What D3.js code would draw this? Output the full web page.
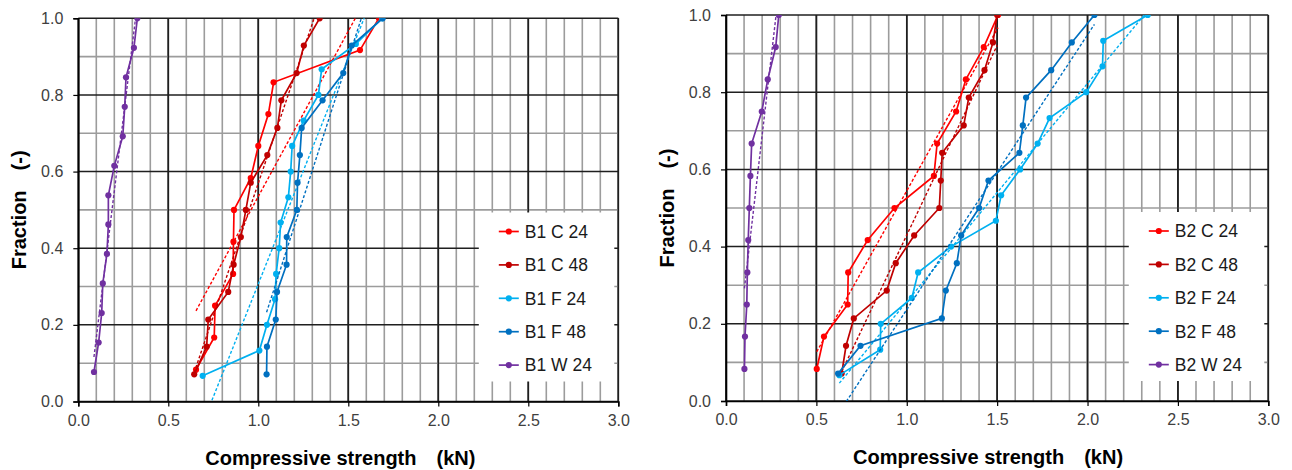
<!DOCTYPE html>
<html>
<head>
<meta charset="utf-8">
<script src="https://cdn.jsdelivr.net/npm/d3@7"></script>
<style>
  body { margin: 0; background: #ffffff; }
  svg { display: block; font-family: "Liberation Sans", Arial, sans-serif; }
</style>
</head>
<body>
<div id="chart"></div>
<script>
// ---------- data ----------
const xTickValues = [0, 0.5, 1.0, 1.5, 2.0, 2.5, 3.0];
const yTickValues = [0, 0.2, 0.4, 0.6, 0.8, 1.0];

const seriesKeys = ['C 24', 'C 48', 'F 24', 'F 48', 'W 24'];

// cumulative fraction (-) for samples of 12 .. 15 specimens
const frac12 = [0.083, 0.167, 0.25, 0.333, 0.417, 0.5, 0.583, 0.667, 0.75, 0.833, 0.917, 1.0];
const frac13 = [0.077, 0.154, 0.231, 0.308, 0.385, 0.462, 0.538, 0.615, 0.692, 0.769, 0.846, 0.923, 1.0];
const frac14 = [0.071, 0.143, 0.214, 0.286, 0.357, 0.429, 0.5, 0.571, 0.643, 0.714, 0.786, 0.857, 0.929, 1.0];
const frac15 = [0.067, 0.133, 0.2, 0.267, 0.333, 0.4, 0.467, 0.533, 0.6, 0.667, 0.733, 0.8, 0.867, 0.933, 1.0];

// compressive strength (kN), batch B1
const b1C24 = [0.654, 0.755, 0.76, 0.86, 0.862, 0.865, 0.958, 1.0, 1.056, 1.085, 1.565, 1.67];
const b1C48 = [0.644, 0.713, 0.722, 0.833, 0.863, 0.903, 0.931, 0.958, 1.05, 1.106, 1.128, 1.213, 1.253, 1.341];
const b1F24 = [0.691, 1.006, 1.048, 1.093, 1.099, 1.116, 1.124, 1.167, 1.18, 1.188, 1.252, 1.334, 1.352, 1.542, 1.688];
const b1F48 = [1.046, 1.048, 1.097, 1.104, 1.157, 1.158, 1.214, 1.218, 1.231, 1.241, 1.357, 1.472, 1.519, 1.691];
const b1W24 = [0.087, 0.113, 0.13, 0.136, 0.159, 0.167, 0.167, 0.2, 0.247, 0.258, 0.265, 0.309, 0.328];

// compressive strength (kN), batch B2
const b2C24 = [0.502, 0.542, 0.673, 0.676, 0.784, 0.932, 1.15, 1.168, 1.273, 1.327, 1.426, 1.505];
const b2C48 = [0.64, 0.664, 0.707, 0.889, 0.939, 1.041, 1.18, 1.188, 1.196, 1.315, 1.343, 1.43, 1.477, 1.5];
const b2F24 = [0.627, 0.853, 0.856, 1.028, 1.063, 1.245, 1.493, 1.522, 1.627, 1.724, 1.79, 1.993, 2.083, 2.087, 2.333];
const b2F48 = [0.62, 0.744, 1.194, 1.216, 1.277, 1.301, 1.4, 1.452, 1.623, 1.642, 1.66, 1.799, 1.913, 2.038];
const b2W24 = [0.102, 0.105, 0.115, 0.118, 0.123, 0.129, 0.135, 0.142, 0.198, 0.231, 0.275, 0.292];

const seriesColors = ['#ff0000', '#c00000', '#00b0f0', '#0070c0', '#7030a0'];

class FractionChart {
    constructor() {
        const attrs = {
            container: '#chart',
            svgWidth: 1292,
            svgHeight: 470,
            gridMinor: '#9c9c9c',
            gridMajor: '#1f1f1f',
            tickColor: '#404040',
            panels: []
        };
        this.getState = () => attrs;
        this.setState = (d) => Object.assign(attrs, d);

        // small enter/update helper
        d3.selection.prototype.patternify = function (params) {
            const data = params.data || [params.selector];
            let sel = this.selectAll('.' + params.selector).data(data);
            sel.exit().remove();
            sel = sel.enter().append(params.tag).merge(sel);
            sel.attr('class', params.selector);
            return sel;
        };
    }

    panels(p) {
        this.setState({ panels: p });
        return this;
    }

    render() {
        const { container, svgWidth, svgHeight, panels } = this.getState();
        const svg = d3.select(container)
            .patternify({ tag: 'svg', selector: 'svg-chart-container' })
            .attr('width', svgWidth)
            .attr('height', svgHeight);

        panels.forEach((p, i) => this.drawPanel(svg, p, i));
    }

    // least squares fit y = a + b x over the x range of the data (Excel linear trendline)
    trend(xs, ys) {
        const mx = d3.mean(xs);
        const my = d3.mean(ys);
        const sxy = d3.sum(xs, (x, i) => (x - mx) * (ys[i] - my));
        const sxx = d3.sum(xs, x => (x - mx) * (x - mx));
        const b = sxy / sxx;
        const a = my - b * mx;
        const [x0, x1] = d3.extent(xs);
        return [[x0, a + b * x0], [x1, a + b * x1]];
    }

    drawPanel(svg, p, idx) {
        const { gridMinor, gridMajor, tickColor } = this.getState();

        const xScale = d3.scaleLinear().domain([0, 3]).range([p.left, p.right]);
        const yScale = d3.scaleLinear().domain([0, 1]).range([p.bottom, p.top]);

        const g = svg.patternify({ tag: 'g', selector: 'panel-' + idx });

        g.patternify({ tag: 'clipPath', selector: 'clip' })
            .attr('id', 'clip-' + idx)
            .patternify({ tag: 'rect', selector: 'clip-rect' })
            .attr('x', p.left).attr('y', p.top)
            .attr('width', p.right - p.left).attr('height', p.bottom - p.top);

        // grid
        const isMajorX = v => Math.abs(v * 2 - Math.round(v * 2)) < 1e-6;
        const isMajorY = v => Math.abs(v * 5 - Math.round(v * 5)) < 1e-6;
        const xGrid = xScale.ticks(30);
        const yGrid = yScale.ticks(10);

        const gridWrap = g.patternify({ tag: 'g', selector: 'grid' });
        gridWrap.patternify({ tag: 'line', selector: 'vgrid', data: xGrid })
            .attr('x1', d => xScale(d)).attr('x2', d => xScale(d))
            .attr('y1', p.top).attr('y2', p.bottom)
            .attr('stroke', d => isMajorX(d) ? gridMajor : gridMinor)
            .attr('stroke-width', 1.6);
        gridWrap.patternify({ tag: 'line', selector: 'hgrid-minor', data: yGrid.filter(d => !isMajorY(d)) })
            .attr('x1', p.left).attr('x2', p.right)
            .attr('y1', d => yScale(d)).attr('y2', d => yScale(d))
            .attr('stroke', gridMinor)
            .attr('stroke-width', 1.6);
        gridWrap.patternify({ tag: 'line', selector: 'hgrid-major', data: yGrid.filter(isMajorY) })
            .attr('x1', p.left).attr('x2', p.right)
            .attr('y1', d => yScale(d)).attr('y2', d => yScale(d))
            .attr('stroke', gridMajor)
            .attr('stroke-width', 1.5);
        // redraw major verticals on top of the minor horizontals
        gridWrap.patternify({ tag: 'line', selector: 'vgrid-major', data: xGrid.filter(isMajorX) })
            .attr('x1', d => xScale(d)).attr('x2', d => xScale(d))
            .attr('y1', p.top).attr('y2', p.bottom)
            .attr('stroke', gridMajor)
            .attr('stroke-width', 1.5);

        // axes
        const xAxis = d3.axisBottom(xScale).tickValues(xTickValues).tickSize(5).tickPadding(8)
            .tickFormat(d3.format('.1f'));
        const yAxis = d3.axisLeft(yScale).tickValues(yTickValues).tickSize(5).tickPadding(10)
            .tickFormat(d3.format('.1f'));

        const xAxisWrap = g.patternify({ tag: 'g', selector: 'x-axis' })
            .attr('transform', `translate(0,${p.bottom})`)
            .call(xAxis);
        const yAxisWrap = g.patternify({ tag: 'g', selector: 'y-axis' })
            .attr('transform', `translate(${p.left},0)`)
            .call(yAxis);

        [xAxisWrap, yAxisWrap].forEach(a => {
            a.select('.domain').attr('stroke', '#000').attr('stroke-width', 1.6);
            a.selectAll('.tick line').attr('stroke', '#000').attr('stroke-width', 1.2);
            a.selectAll('text')
                .attr('fill', tickColor)
                .attr('font-size', 16)
                .attr('font-family', '"Liberation Sans", Arial, sans-serif');
        });

        // series
        const line = d3.line().x(d => xScale(d[0])).y(d => yScale(d[1]));
        const dataWrap = g.patternify({ tag: 'g', selector: 'series-wrap' })
            .attr('clip-path', `url(#clip-${idx})`);

        const series = p.series.map((s, i) => ({
            key: s.key,
            color: seriesColors[i],
            points: s.xs.map((x, j) => [x, s.ys[j]]),
            fit: this.trend(s.xs, s.ys)
        }));

        const sg = dataWrap.patternify({ tag: 'g', selector: 'series', data: series });

        sg.patternify({ tag: 'path', selector: 'fit-line', data: d => [d] })
            .attr('d', d => line(d.fit))
            .attr('fill', 'none')
            .attr('stroke', d => d.color)
            .attr('stroke-width', 1.4)
            .attr('stroke-dasharray', '3 2');

        sg.patternify({ tag: 'path', selector: 'data-line', data: d => [d] })
            .attr('d', d => line(d.points))
            .attr('fill', 'none')
            .attr('stroke', d => d.color)
            .attr('stroke-width', 1.7);

        sg.each(function (d) {
            d3.select(this).patternify({ tag: 'circle', selector: 'dot', data: d.points })
                .attr('cx', q => xScale(q[0]))
                .attr('cy', q => yScale(q[1]))
                .attr('r', 3.1)
                .attr('fill', d.color);
        });

        // legend
        const lg = g.patternify({ tag: 'g', selector: 'legend' });
        lg.patternify({ tag: 'rect', selector: 'legend-bg' })
            .attr('x', p.right - 139.5)
            .attr('y', p.bottom - 189)
            .attr('width', 135.5)
            .attr('height', 169)
            .attr('fill', '#ffffff');

        const items = lg.patternify({ tag: 'g', selector: 'legend-item', data: series })
            .attr('transform', (d, i) => `translate(${p.right - 119.5},${p.bottom - 170 + i * 33.4})`);
        items.patternify({ tag: 'line', selector: 'legend-line', data: d => [d] })
            .attr('x1', 0).attr('x2', 20)
            .attr('stroke', d => d.color)
            .attr('stroke-width', 1.7);
        items.patternify({ tag: 'circle', selector: 'legend-dot', data: d => [d] })
            .attr('cx', 10).attr('r', 3.1)
            .attr('fill', d => d.color);
        items.patternify({ tag: 'text', selector: 'legend-text', data: d => [d] })
            .attr('x', 26)
            .attr('dy', '0.36em')
            .attr('font-size', 17.5)
            .attr('fill', '#1a1a1a')
            .text(d => p.name + ' ' + d.key);

        // axis titles
        g.patternify({ tag: 'text', selector: 'x-title' })
            .attr('x', p.left + 127)
            .attr('y', p.bottom + 63)
            .attr('text-anchor', 'start')
            .attr('font-size', 20)
            .attr('font-weight', 'bold')
            .attr('fill', '#000')
            .text('Compressive strength\u3000(kN)');

        g.patternify({ tag: 'text', selector: 'y-title' })
            .attr('transform', `translate(${p.left - 52},${(p.top + p.bottom) / 2}) rotate(-90)`)
            .attr('text-anchor', 'middle')
            .attr('font-size', 20)
            .attr('font-weight', 'bold')
            .attr('fill', '#000')
            .text('Fraction\u3000(-)');
    }
}

const chart = new FractionChart()
    .panels([
        {
            name: 'B1', left: 78.3, right: 618.3, top: 18.3, bottom: 401.5,
            series: [
                { key: seriesKeys[0], xs: b1C24, ys: frac12 },
                { key: seriesKeys[1], xs: b1C48, ys: frac14 },
                { key: seriesKeys[2], xs: b1F24, ys: frac15 },
                { key: seriesKeys[3], xs: b1F48, ys: frac14 },
                { key: seriesKeys[4], xs: b1W24, ys: frac13 }
            ]
        },
        {
            name: 'B2', left: 726, right: 1268.3, top: 15, bottom: 401,
            series: [
                { key: seriesKeys[0], xs: b2C24, ys: frac12 },
                { key: seriesKeys[1], xs: b2C48, ys: frac14 },
                { key: seriesKeys[2], xs: b2F24, ys: frac15 },
                { key: seriesKeys[3], xs: b2F48, ys: frac14 },
                { key: seriesKeys[4], xs: b2W24, ys: frac12 }
            ]
        }
    ]);

chart.render();
</script>
</body>
</html>
